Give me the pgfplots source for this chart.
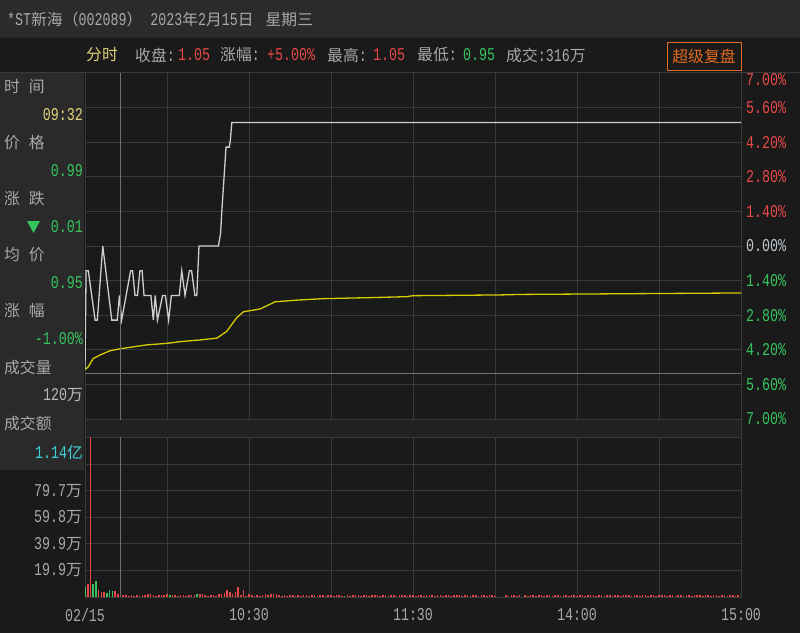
\documentclass[border=0pt]{standalone}
\usepackage{pgfplots}
\usepackage{pgfplotstable}
\pgfplotsset{compat=1.18}
\usepackage{fontspec}
\setmainfont{Liberation Mono}[FakeStretch=0.74]
\newfontfamily\cjk{Noto Sans CJK SC}
\newcommand\fs{\normalfont\fontsize{18}{20}\selectfont}
\newcommand\cf{\cjk\fontsize{15.8}{18}\selectfont}
\definecolor{bg}{HTML}{1A1A1A}
\definecolor{tbar}{HTML}{2B2B2B}
\definecolor{panel}{HTML}{2A2A2A}
\definecolor{band}{HTML}{222222}
\definecolor{gridc}{HTML}{3A3A3A}
\definecolor{txt}{HTML}{A8A8A8}
\definecolor{upr}{HTML}{E84848}
\definecolor{dng}{HTML}{36C45E}
\definecolor{ylw}{HTML}{E0D27A}
\definecolor{cyn}{HTML}{40D0D8}
\definecolor{org}{HTML}{E06A20}
\definecolor{zer}{HTML}{C0C8D0}
\definecolor{pricel}{HTML}{CFCFCF}
\definecolor{avgl}{HTML}{D6CC00}
\definecolor{cross}{HTML}{707070}

\pgfplotstableread{
m p
0 0.95
0.4 0.99
1.2 0.99
3.7 0.97
4.5 0.97
6.5 1.00
9.8 0.97
11.8 0.97
12.6 0.98
13.4 0.97
16.7 0.99
17.4 0.99
18.3 0.98
19.2 0.98
20.1 0.99
20.9 0.99
21.6 0.98
24.1 0.98
25.0 0.97
25.7 0.98
26.5 0.97
28.4 0.98
29.4 0.98
30.6 0.97
31.6 0.98
34.5 0.98
35.4 0.99
36.6 0.98
38.2 0.99
39.0 0.99
40.2 0.98
40.9 0.98
41.7 1.00
48.8 1.00
49.6 1.005
50.0 1.013
51.0 1.030
51.6 1.040
52.8 1.040
53.2 1.043
53.7 1.050
240 1.050
}\pricetab

\pgfplotstableread{
m p
0 0.9500
1.2 0.9511
3.0 0.9545
5.5 0.9559
9.1 0.9576
12.8 0.9584
22.6 0.9600
29.9 0.9606
34.8 0.9613
42.1 0.9620
48.2 0.9627
50.6 0.9645
51.9 0.9655
55.5 0.9710
58.0 0.9734
64.0 0.9745
69.5 0.9774
77.5 0.9781
87.2 0.9787
104 0.9791
117.7 0.9795
120 0.9799
152 0.9802
159 0.9804
240 0.9810
}\avgtab

\begin{document}
\begin{tikzpicture}
\fill[bg] (0pt,0pt) rectangle (800pt,-633pt);
\useasboundingbox (0pt,0pt) rectangle (800pt,-633pt);
\fill[tbar] (0pt,0pt) rectangle (800pt,-37pt);
\draw[black!85] (0pt,-37.5pt) -- (800pt,-37.5pt);
\draw[gridc] (0pt,-72.5pt) -- (800pt,-72.5pt);

% price chart
\begin{axis}[
  at={(85pt,-437pt)}, anchor=south west,
  width=656pt, height=364pt, scale only axis,
  xmin=0, xmax=240, ymin=-7.7285, ymax=7,
  axis background/.style={fill=bg},
  axis line style={gridc, line width=1pt},
  xtick={30,60,...,210}, xticklabels={},
  ytick={-7,-5.6,-4.2,-2.8,-1.4,0,1.4,2.8,4.2,5.6},
  yticklabels={\textcolor{dng}{7.00\%},\textcolor{dng}{5.60\%},\textcolor{dng}{4.20\%},\textcolor{dng}{2.80\%},\textcolor{dng}{1.40\%},\textcolor{zer}{0.00\%},\textcolor{upr}{1.40\%},\textcolor{upr}{2.80\%},\textcolor{upr}{4.20\%},\textcolor{upr}{5.60\%}},
  extra y ticks={7},
  extra y tick labels={\textcolor{upr}{7.00\%}},
  extra y tick style={yticklabel style={yshift=-7pt}},
  yticklabel pos=right,
  /pgf/number format/assume math mode=true,
  yticklabel style={font=\fs, anchor=west, inner sep=0pt, xshift=5pt},
  grid=major, major grid style={gridc, line width=1pt},
  major tick length=0pt,
]
\addplot[avgl, line width=1.3pt, mark=none] table[x=m, y expr=(\thisrow{p}-1)*100] {\avgtab};
\addplot[pricel, line width=1.3pt, mark=none] table[x=m, y expr=(\thisrow{p}-1)*100] {\pricetab};
\end{axis}

% volume chart
\begin{axis}[
  at={(85pt,-597pt)}, anchor=south west,
  width=656pt, height=160pt, scale only axis,
  xmin=0, xmax=240, ymin=0, ymax=120,
  axis background/.style={fill=bg},
  axis line style={gridc, line width=1pt},
  xtick={0,30,...,240},
  xticklabels={02/15,,10:30,,11:30,,14:00,,15:00},
  ytick={19.9,39.8,59.8,79.7,99.6},
  yticklabels={19.9{\cf 万},39.9{\cf 万},59.8{\cf 万},79.7{\cf 万},},
  /pgf/number format/assume math mode=true,
  xticklabel style={font=\fs, text=txt, anchor=center, inner sep=0pt, yshift=-18pt},
  yticklabel style={font=\fs, text=txt, anchor=east, inner sep=0pt, xshift=-3pt},
  grid=major, major grid style={gridc, line width=1pt},
  major tick length=0pt,
]
\addplot[ycomb, draw=upr, line width=1.6pt, mark=none] coordinates {
(1,10)(2,120)(5,5.4)(6,3.7)(7,3.7)(11,4.7)(12,2.0)(14,1.7)(15,1.2)(16,1.0)(17,1.2)(18,1.0)(19,1.3)(20,1.0)
(21,1.2)(22,1.4)(23,2.5)(24,2.5)(25,1.2)(26,1.0)(27,1.2)(28,1.4)(29,1.2)(30,2.5)(32,1.2)(33,1.4)(34,1.0)
(35,1.2)(36,1.2)(37,1.0)(38,1.4)(39,1.2)(40,1.2)(42,2.5)(43,2.2)(44,1.2)(45,1.0)(46,1.2)(47,1.2)(48,1.0)
(49,2.5)(50,2.5)(51,3.0)(52,5.4)(53,3.7)(54,2.5)(55,3.9)(56,7.8)(57,1.7)(58,5.4)(59,1.0)(60,2.5)
(61,1.2)(62,1.0)(63,1.2)(64,1.0)(65,1.2)(66,2.5)(67,1.2)(68,2.5)(69,2.5)(70,2.2)(71,1.2)(72,1.0)(73,1.2)
(74,1.0)(75,1.2)(76,1.4)(77,1.0)(78,1.2)(79,1.0)(80,1.2)(81,1.2)(82,1.0)(83,1.4)(84,1.2)(85,1.0)(86,1.2)
(87,1.2)(88,1.0)(89,1.2)(90,1.4)(91,1.0)(92,1.2)(93,1.2)(94,1.0)(96,1.2)(97,1.0)(98,1.2)(99,1.4)
(100,1.2)(101,1.0)(102,1.2)(103,1.2)(104,1.0)(105,1.2)(106,1.2)(107,1.4)(108,1.0)(109,1.2)(110,1.2)
(111,1.0)(112,1.2)(113,1.2)(114,1.0)(115,1.2)(116,1.4)(117,1.2)(118,1.0)(119,1.2)(120,1.2)(121,1.0)
(122,1.2)(123,1.2)(124,1.0)(125,1.2)(126,1.4)(127,1.2)(128,1.0)(129,1.2)(130,1.2)(131,1.0)(132,1.2)
(133,1.2)(134,1.0)(135,1.2)(136,1.2)(137,1.4)(138,1.0)(139,1.2)(140,1.2)(141,1.0)(142,1.2)(143,1.2)
(144,1.0)(145,1.2)(146,1.2)(147,1.0)(148,1.2)(149,1.2)(150,1.0)(154,1.2)(155,1.0)(156,1.2)(157,1.2)
(158,1.0)(159,1.2)(161,1.2)(162,1.0)(163,1.2)(164,1.2)(165,1.0)(166,1.2)(167,1.2)(168,1.0)(169,1.2)
(170,1.2)(171,1.0)(172,1.2)(173,1.4)(174,1.0)(175,1.2)(176,1.2)(177,1.0)(178,1.2)(179,1.2)(180,1.0)
(181,1.2)(182,1.2)(183,1.0)(184,1.2)(185,1.4)(186,1.2)(187,1.0)(188,1.2)(189,1.2)(190,1.0)(191,1.2)
(192,1.2)(193,1.0)(194,1.2)(195,1.2)(196,1.0)(197,1.2)(198,1.4)(199,1.2)(200,1.0)(201,1.2)(202,1.2)
(203,1.0)(204,1.2)(205,1.2)(206,1.0)(207,1.2)(208,1.2)(209,1.0)(210,1.2)(211,1.4)(212,1.2)(213,1.0)
(214,1.2)(215,1.2)(216,1.0)(217,1.2)(218,1.2)(219,1.0)(220,1.2)(221,1.2)(222,1.0)(223,1.2)(224,1.4)
(225,1.2)(226,1.0)(227,1.2)(228,1.2)(229,1.0)(230,1.2)(231,1.2)(232,1.0)(233,1.2)(234,1.2)(235,1.0)
(236,1.2)(237,1.2)(238,1.0)(239,1.2)
};
\addplot[ycomb, draw=dng, line width=1.6pt, mark=none] coordinates {
(0,7.4)(3,9.8)(4,12.3)(8,3.0)(9,4.9)(10,4.4)(13,3.0)(31,1.5)(41,2.0)(95,1.0)
};
\end{axis}

% crosshair
\draw[cross, line width=0.8pt] (120pt,-73pt) -- (120pt,-597pt);
% separating band between price and volume charts
\fill[band] (85.5pt,-420pt) rectangle (741pt,-436.5pt);

% left info panel
\fill[panel] (0pt,-73pt) rectangle (84pt,-470pt);
\draw[cross, line width=0.8pt] (85pt,-373pt) -- (741pt,-373pt);
\begin{scope}[every node/.style={inner sep=0pt}]
\node[anchor=west,text=txt] at (4pt,-87pt) {\cf 时\hspace{9pt}间};
\node[anchor=east,text=ylw] at (83pt,-115pt) {\fs 09:32};
\node[anchor=west,text=txt] at (4pt,-143pt) {\cf 价\hspace{9pt}格};
\node[anchor=east,text=dng] at (83pt,-171pt) {\fs 0.99};
\node[anchor=west,text=txt] at (4pt,-199pt) {\cf 涨\hspace{9pt}跌};
\fill[dng] (27pt,-221pt) -- (40pt,-221pt) -- (33.5pt,-233pt) -- cycle;
\node[anchor=east,text=dng] at (83pt,-227pt) {\fs 0.01};
\node[anchor=west,text=txt] at (4pt,-255pt) {\cf 均\hspace{9pt}价};
\node[anchor=east,text=dng] at (83pt,-283pt) {\fs 0.95};
\node[anchor=west,text=txt] at (4pt,-311pt) {\cf 涨\hspace{9pt}幅};
\node[anchor=east,text=dng] at (83pt,-339pt) {\fs -1.00\%};
\node[anchor=west,text=txt] at (4pt,-367pt) {\cf 成交量};
\node[anchor=east,text=txt!80] at (83pt,-395pt) {\fs 120\cf 万};
\node[anchor=west,text=txt] at (4pt,-423pt) {\cf 成交额};
\node[anchor=east,text=cyn] at (83pt,-452pt) {\fs 1.14\cf 亿};

% title
\node[anchor=west,text=txt] at (7pt,-19pt) {\fs*ST\cf 新海（\fs 002089\cf ）\fs\ 2023\cf 年\fs 2\cf 月\fs 15\cf 日\hspace{12pt}星期三};
% header
\node[anchor=west,text=ylw] at (86pt,-55pt) {\cf 分时};
\node[anchor=west,text=txt] at (135pt,-55pt) {\cf 收盘\fs:};
\node[anchor=west,text=upr] at (178pt,-55pt) {\fs 1.05};
\node[anchor=west,text=txt] at (220pt,-55pt) {\cf 涨幅\fs:};
\node[anchor=west,text=upr] at (267pt,-55pt) {\fs +5.00\%};
\node[anchor=west,text=txt] at (327pt,-55pt) {\cf 最高\fs:};
\node[anchor=west,text=upr] at (373pt,-55pt) {\fs 1.05};
\node[anchor=west,text=txt] at (417pt,-55pt) {\cf 最低\fs:};
\node[anchor=west,text=dng] at (463pt,-55pt) {\fs 0.95};
\node[anchor=west,text=txt] at (506pt,-55pt) {\cf 成交\fs:316\cf 万};
\draw[org, line width=1pt] (667pt,-42pt) rectangle (741pt,-70pt);
\node[text=org] at (704pt,-56pt) {\cf 超级复盘};
\end{scope}
\end{tikzpicture}
\end{document}
